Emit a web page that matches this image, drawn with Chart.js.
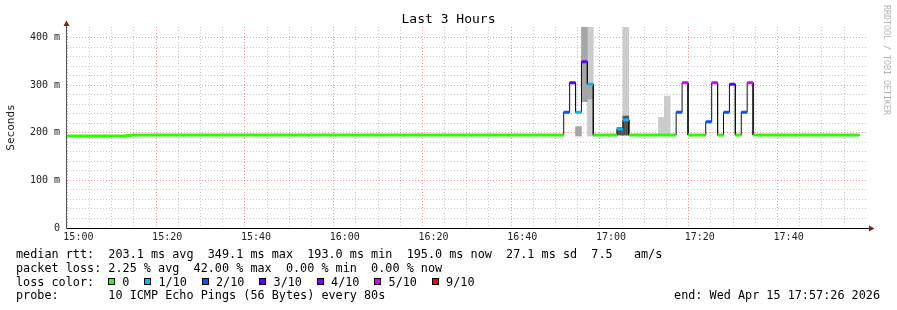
<!DOCTYPE html>
<html>
<head>
<meta charset="utf-8">
<script src="https://cdn.jsdelivr.net/npm/chart.js@4.4.1/dist/chart.umd.min.js"></script>
<style>
html,body{margin:0;padding:0;background:#fff;}
#wrap{position:relative;width:897px;height:310px;overflow:hidden;background:#fff;}
#c{position:absolute;left:0;top:0;}
.leg{position:absolute;left:16px;font-family:"DejaVu Sans Mono",monospace;font-size:11.8px;line-height:14px;white-space:pre;color:#000;}
.item{display:inline-flex;align-items:center;margin-right:14.8px;}
.box{display:inline-block;width:5px;height:5px;border:1px solid #000;margin-right:7.3px;}
</style>
</head>
<body>
<div id="wrap">
<canvas id="c" width="897" height="310"></canvas>
<div class="leg" style="top:247.3px">median rtt:  203.1 ms avg  349.1 ms max  193.0 ms min  195.0 ms now  27.1 ms sd  7.5   am/s</div>
<div class="leg" style="top:261px">packet loss: 2.25 % avg  42.00 % max  0.00 % min  0.00 % now</div>
<div class="leg" style="top:274.7px">loss color:</div>
<div id="lossKey" class="leg" style="top:274.7px;left:108px;display:flex;align-items:center"></div>
<div class="leg" style="top:288.4px">probe:       10 ICMP Echo Pings (56 Bytes) every 80s</div>
<div class="leg" style="top:288.4px;left:auto;right:17px">end: Wed Apr 15 17:57:26 2026</div>
</div>
<script>
// ---------- data ----------
const sampleStepSec = 80;          // one sample every 80 s
const firstSampleSec = -160;       // first sample starts 14:57:20 (seconds from 15:00)
const viewStartSec = -154;         // 14:57:26
const viewEndSec = 10646;          // 17:57:26

// median rtt per sample (ms)
const medianMs = [
  193,193,193,193,193,193,193,193,193,193,
  194,195,195,195,195,195,195,195,195,195,
  195,195,195,195,195,195,195,195,195,195,
  195,195,195,195,195,195,195,195,195,195,
  195,195,195,195,195,195,195,195,195,195,
  195,195,195,195,195,195,195,195,195,195,
  195,195,195,195,195,195,195,195,195,195,
  195,195,195,195,195,195,195,195,195,195,
  195,195,195,195,243,305,243,349,302,195,
  195,195,195,208,227,195,195,195,195,195,
  195,195,195,243,305,195,195,195,223,305,
  195,243,302,195,243,305,195,195,195,195,
  195,195,195,195,195,195,195,195,195,195,
  195,195,195,195
];
// lost pings (of 10) per sample
const lossPings = [
  0,0,0,0,0,0,0,0,0,0,
  0,0,0,0,0,0,0,0,0,0,
  0,0,0,0,0,0,0,0,0,0,
  0,0,0,0,0,0,0,0,0,0,
  0,0,0,0,0,0,0,0,0,0,
  0,0,0,0,0,0,0,0,0,0,
  0,0,0,0,0,0,0,0,0,0,
  0,0,0,0,0,0,0,0,0,0,
  0,0,0,0,2,3,1,3,1,0,
  0,0,0,1,1,0,0,0,0,0,
  0,0,0,2,5,0,0,0,2,5,
  0,2,3,0,2,5,0,0,0,0,
  0,0,0,0,0,0,0,0,0,0,
  0,0,0,0
];
// smoke (ping spread) bands: sample index, low/high ms, band
const smokeIndex  = [86, 87, 88, 88, 93, 94, 94, 100, 101];
const smokeLowMs  = [193, 265, 193, 271, 195, 195, 235, 197, 197];
const smokeHighMs = [213, 425, 425, 298, 211, 235, 425, 232, 277];
const smokeBand   = ['mid','mid','outer','mid','inner','inner','outer','outer','outer'];

const lossThresholds = [0, 1, 2, 3, 4, 5, 9];
const lossLabels = ['0', '1/10', '2/10', '3/10', '4/10', '5/10', '9/10'];

const xTickLabels = ['15:00','15:20','15:40','16:00','16:20','16:40','17:00','17:20','17:40'];
const yTickLabels = ['0','100 m','200 m','300 m','400 m'];

// ---------- styles ----------
const lossColors = ['#26ff00','#00b8ff','#0059ff','#5e00ff','#7e00ff','#dd00ff','#ff0000'];
const smokeColors = {outer:'#cccccc', mid:'#a6a6a6', inner:'#555555'};
const MONO = '"DejaVu Sans Mono", monospace';
const GRID_MINOR = '#c8c8c8';
const GRID_MAJOR = 'rgba(255,0,0,0.42)';

// legend key
const key = document.getElementById('lossKey');
lossLabels.forEach((lab, i) => {
  const it = document.createElement('span'); it.className = 'item';
  const b = document.createElement('span'); b.className = 'box'; b.style.background = lossColors[i];
  const t = document.createElement('span'); t.textContent = lab;
  it.appendChild(b); it.appendChild(t); key.appendChild(it);
});

// ---------- build datasets ----------
const stepMin = sampleStepSec / 60;
const startMin = k => (firstSampleSec + k * sampleStepSec) / 60;
const catOf = loss => { let c = 0; lossThresholds.forEach((t, i) => { if (loss >= t) c = i; }); return c; };

const blackLine = [];
medianMs.forEach((m, k) => { blackLine.push({x: startMin(k), y: m}, {x: startMin(k) + stepMin, y: m}); });

const colorData = lossThresholds.map(() => []);
medianMs.forEach((m, k) => {
  const c = catOf(lossPings[k]);
  colorData[c].push({x: startMin(k), y: m}, {x: startMin(k) + stepMin, y: m}, {x: startMin(k) + stepMin, y: null});
});

const bandOrder = {outer: 5, mid: 4, inner: 3};
const smokeSets = ['outer','mid','inner'].map(band => {
  const data = medianMs.map((_, k) => ({x: startMin(k) + stepMin / 2, y: null}));
  smokeIndex.forEach((idx, i) => { if (smokeBand[i] === band) data[idx].y = [smokeLowMs[i], smokeHighMs[i]]; });
  return {type: 'bar', data, backgroundColor: smokeColors[band], borderWidth: 0, grouped: false,
          barPercentage: 1, categoryPercentage: 1, order: bandOrder[band]};
});

const datasets = [
  ...smokeSets,
  {type: 'line', data: blackLine, borderColor: '#111', borderWidth: 1, pointRadius: 0, tension: 0, order: 2},
  ...colorData.map((d, i) => ({type: 'line', data: d, borderColor: lossColors[i], borderWidth: 3,
        pointRadius: 0, tension: 0, spanGaps: false, order: 1}))
];

const xGridMin = [];
for (let v = 0; v <= 175; v += 5) xGridMin.push(v);
const yGridMs = [];
for (let v = 0; v <= 400; v += 20) yGridMs.push(v);

const rrdPlugin = {
  id: 'rrd',
  afterDraw(chart) {
    const {ctx, chartArea: {left, right, top, bottom}} = chart;
    ctx.save();
    const ax = Math.floor(left) - 0.5, ay = Math.floor(bottom) + 0.5;
    ctx.lineWidth = 1;
    ctx.strokeStyle = '#555';
    ctx.beginPath(); ctx.moveTo(ax, ay); ctx.lineTo(ax, top - 4); ctx.stroke();
    ctx.strokeStyle = '#000';
    ctx.beginPath(); ctx.moveTo(ax, ay); ctx.lineTo(right + 3, ay); ctx.stroke();
    ctx.fillStyle = '#8b1a1a';
    ctx.beginPath(); ctx.moveTo(ax, top - 6.5); ctx.lineTo(ax - 3, top - 1); ctx.lineTo(ax + 3, top - 1); ctx.closePath(); ctx.fill();
    ctx.beginPath(); ctx.moveTo(right + 8.5, ay); ctx.lineTo(right + 3, ay - 3); ctx.lineTo(right + 3, ay + 3); ctx.closePath(); ctx.fill();
    // watermark
    ctx.translate(884, 5);
    ctx.rotate(Math.PI / 2);
    ctx.font = '8.3px ' + MONO;
    ctx.fillStyle = '#b4b4b4';
    ctx.textBaseline = 'alphabetic';
    ctx.fillText('RRDTOOL / TOBI OETIKER', 0, 0);
    ctx.restore();
  }
};

new Chart(document.getElementById('c'), {
  type: 'line',
  data: {datasets},
  plugins: [rrdPlugin],
  options: {
    responsive: false,
    animation: false,
    events: [],
    layout: {padding: 0},
    plugins: {
      legend: {display: false},
      tooltip: {enabled: false},
      title: {display: true, text: 'Last 3 Hours', color: '#000',
              font: {family: MONO, size: 13, weight: 'normal', lineHeight: 1.2},
              padding: {top: 11.4, bottom: 0}}
    },
    scales: {
      x: {
        type: 'linear', offset: false,
        min: viewStartSec / 60, max: viewEndSec / 60,
        grid: {drawTicks: false, lineWidth: 1,
               color: c => (c.tick && c.tick.value % 20 === 0) ? GRID_MAJOR : GRID_MINOR},
        border: {display: false, dash: [1, 2]},
        ticks: {autoSkip: false, maxRotation: 0, padding: 3, color: '#222',
                font: {family: MONO, size: 10},
                callback: v => (v % 20 === 0) ? (xTickLabels[v / 20] || '') : ''},
        afterBuildTicks: s => { s.ticks = xGridMin.map(v => ({value: v})); },
        afterFit: s => { s.height = 82; }
      },
      y: {
        type: 'linear', min: 0, max: 422,
        grid: {drawTicks: false, lineWidth: 1,
               color: c => (c.tick && c.tick.value % 100 === 0) ? GRID_MAJOR : GRID_MINOR},
        border: {display: false, dash: [1, 2]},
        ticks: {autoSkip: false, padding: 7, color: '#222',
                font: {family: MONO, size: 10},
                callback: v => (v % 100 === 0) ? (yTickLabels[v / 100] || '') : ''},
        afterBuildTicks: s => { s.ticks = yGridMs.map(v => ({value: v})); },
        afterFit: s => { s.width = 67; },
        title: {display: true, text: 'Seconds', color: '#222',
                font: {family: MONO, size: 11, lineHeight: 1.2},
                padding: {top: 4.2, bottom: 0}}
      },
      rightMargin: {
        type: 'linear', position: 'right', display: true,
        grid: {display: false}, border: {display: false},
        ticks: {display: false},
        afterFit: s => { s.width = 31; }
      }
    }
  }
});
</script>
</body>
</html>
